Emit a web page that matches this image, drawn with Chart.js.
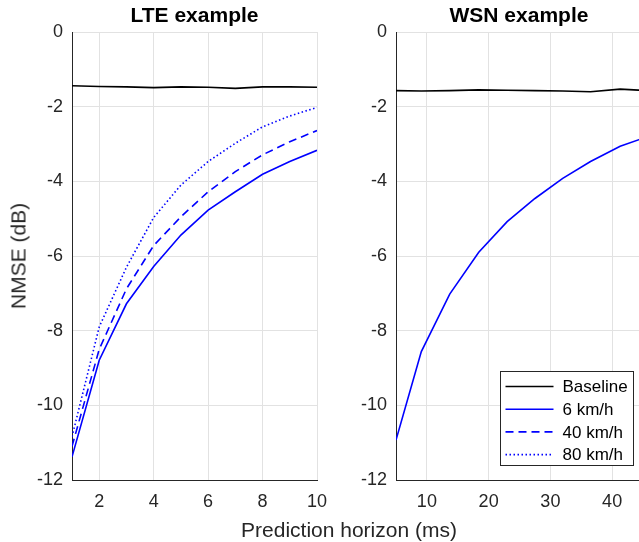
<!DOCTYPE html>
<html>
<head>
<meta charset="utf-8">
<script src="https://cdn.jsdelivr.net/npm/chart.js@4.4.1/dist/chart.umd.min.js"></script>
<style>
    html, body { margin: 0; padding: 0; background: #fff; overflow: hidden; }
    body { width: 639px; height: 542px; position: relative; font-family: "Liberation Sans", Arial, sans-serif; color: #262626; }
    canvas { position: absolute; top: 0; }
    #lteChart { left: 0; }
    #wsnChart { left: 330px; }
    .title { position: absolute; top: 4px; font-size: 21px; line-height: 21px; font-weight: bold; color: #000; text-align: center; white-space: nowrap; }
    .label { position: absolute; font-size: 21px; line-height: 21px; white-space: nowrap; transform: translate(-50%, -50%); }
</style>
</head>
<body>
<canvas id="lteChart" width="330" height="542"></canvas>
<canvas id="wsnChart" width="313" height="542"></canvas>
<div class="title" style="left:72px; width:245px;">LTE example</div>
<div class="title" style="left:396px; width:246px;">WSN example</div>
<div class="label" style="left:18px; top:256px; transform: translate(-50%, -50%) rotate(-90deg);">NMSE (dB)</div>
<div class="label" style="left:349px; top:529px;">Prediction horizon (ms)</div>
<script>
// ---- data ----
const yTicks = [-12, -10, -8, -6, -4, -2, 0];
const lteTicks = [2, 4, 6, 8, 10];
const wsnTicks = [10, 20, 30, 40];

const lteHorizon = [1, 2, 3, 4, 5, 6, 7, 8, 9, 10];
const lteBaseline = [-1.44, -1.46, -1.47, -1.49, -1.47, -1.48, -1.51, -1.47, -1.47, -1.48];
const lte6 = [-11.38, -8.79, -7.28, -6.28, -5.44, -4.77, -4.28, -3.81, -3.47, -3.17];
const lte40 = [-11.1, -8.5, -6.88, -5.72, -4.95, -4.28, -3.74, -3.29, -2.94, -2.64];
const lte80 = [-10.84, -7.9, -6.3, -4.97, -4.1, -3.47, -2.98, -2.54, -2.25, -2.02];

const wsnHorizon = [5, 9.1, 13.7, 18.4, 23, 27.5, 32, 36.5, 41.3, 45.8];
const wsnBaseline = [-1.57, -1.58, -1.57, -1.55, -1.56, -1.57, -1.58, -1.6, -1.53, -1.57];
const wsn6 = [-10.93, -8.56, -7.02, -5.9, -5.08, -4.46, -3.92, -3.47, -3.06, -2.8];

const legendLabels = ['Baseline', '6 km/h', '40 km/h', '80 km/h'];

// ---- styles ----
const FONT = '"Liberation Sans", Arial, sans-serif';
const AXIS_COLOR = '#262626';
const GRID_COLOR = '#e2e2e2';
const seriesStyles = [
    { color: '#000000', dash: [] },
    { color: '#0000ff', dash: [] },
    { color: '#0000ff', dash: [8, 5] },
    { color: '#0000ff', dash: [1.5, 2.5] }
];

function toPoints(xs, ys) {
    return xs.map((x, i) => ({ x: x, y: ys[i] }));
}

function makeDataset(idx, xs, ys) {
    const st = seriesStyles[idx];
    return {
        label: legendLabels[idx],
        data: toPoints(xs, ys),
        borderColor: st.color,
        borderDash: st.dash,
        borderWidth: 1.6,
        pointRadius: 0,
        tension: 0,
        fill: false
    };
}

function axis(min, max, tickValues, isX, fitSize) {
    return {
        type: 'linear',
        min: min,
        max: max,
        afterBuildTicks: (scale) => {
            scale.ticks = tickValues.map(v => ({ value: v }));
        },
        afterFit: (scale) => {
            // fixed plot area, labels may overhang the edges
            scale.paddingLeft = 0;
            scale.paddingRight = 0;
            scale.paddingTop = 0;
            scale.paddingBottom = 0;
            if (isX) scale.height = fitSize; else scale.width = fitSize;
        },
        grid: { color: GRID_COLOR, lineWidth: 1, drawTicks: false },
        border: { display: true, color: AXIS_COLOR, width: 1 },
        ticks: {
            color: AXIS_COLOR,
            font: { family: FONT, size: 18 },
            padding: isX ? 11 : 9,
            maxRotation: 0,
            autoSkip: false
        }
    };
}

// legend box drawn inside the plot area, bottom right
const boxLegend = {
    id: 'boxLegend',
    afterDraw(chart) {
        const ctx = chart.ctx;
        const area = chart.chartArea;
        const w = 133, h = 94;
        const left = Math.round(area.right - 10 - w) + 0.5;
        const top = Math.round(area.bottom - 15 - h) + 0.5;
        ctx.save();
        ctx.fillStyle = '#ffffff';
        ctx.fillRect(left, top, w, h);
        ctx.strokeStyle = AXIS_COLOR;
        ctx.lineWidth = 1;
        ctx.strokeRect(left, top, w, h);
        ctx.font = '17px ' + FONT;
        ctx.textBaseline = 'middle';
        ctx.textAlign = 'left';
        legendLabels.forEach((label, i) => {
            const y = top + 15 + i * 22.7;
            const st = seriesStyles[i];
            ctx.beginPath();
            ctx.strokeStyle = st.color;
            ctx.lineWidth = 1.6;
            ctx.setLineDash(st.dash);
            ctx.moveTo(left + 5, y);
            ctx.lineTo(left + 53, y);
            ctx.stroke();
            ctx.setLineDash([]);
            ctx.fillStyle = '#000000';
            ctx.fillText(label, left + 62, y + 1);
        });
        ctx.restore();
    }
};

const common = {
    responsive: false,
    animation: false,
    plugins: { legend: { display: false }, tooltip: { enabled: false }, title: { display: false } }
};

new Chart(document.getElementById('lteChart').getContext('2d'), {
    type: 'line',
    data: {
        datasets: [
            makeDataset(0, lteHorizon, lteBaseline),
            makeDataset(1, lteHorizon, lte6),
            makeDataset(2, lteHorizon, lte40),
            makeDataset(3, lteHorizon, lte80)
        ]
    },
    options: Object.assign({}, common, {
        layout: { padding: { left: 0, top: 32, right: 13, bottom: 0 } },
        scales: {
            x: axis(1, 10, lteTicks, true, 62),
            y: axis(-12, 0, yTicks, false, 72)
        }
    })
});

new Chart(document.getElementById('wsnChart').getContext('2d'), {
    type: 'line',
    data: {
        datasets: [
            makeDataset(0, wsnHorizon, wsnBaseline),
            makeDataset(1, wsnHorizon, wsn6)
        ]
    },
    options: Object.assign({}, common, {
        layout: { padding: { left: 0, top: 32, right: 0, bottom: 0 } },
        scales: {
            x: axis(5, 45, wsnTicks, true, 62),
            y: axis(-12, 0, yTicks, false, 66)
        }
    }),
    plugins: [boxLegend]
});
</script>
</body>
</html>
